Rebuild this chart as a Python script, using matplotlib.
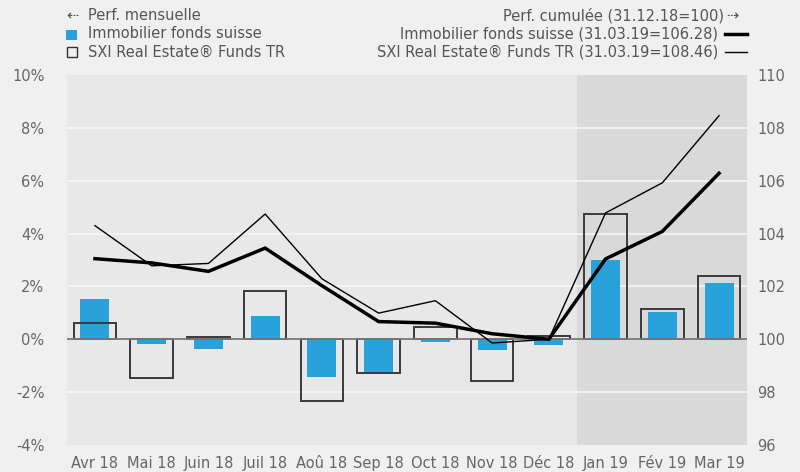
import matplotlib
matplotlib.use("Agg")
import matplotlib.pyplot as plt
from matplotlib import font_manager as fm
from matplotlib.patches import Rectangle
from matplotlib.lines import Line2D

months = ["Avr 18", "Mai 18", "Juin 18", "Juil 18", "Aoû 18", "Sep 18",
          "Oct 18", "Nov 18", "Déc 18", "Jan 19", "Fév 19", "Mar 19"]
monthly_fonds = [1.53, -0.16, -0.35, 0.89, -1.41, -1.33, -0.12, -0.40, -0.23, 3.01, 1.05, 2.14]
monthly_sxi = [0.61, -1.48, 0.09, 1.81, -2.33, -1.28, 0.45, -1.58, 0.13, 4.74, 1.13, 2.40]
cum_fonds = [103.05, 102.89, 102.57, 103.45, 102.03, 100.67, 100.61, 100.21, 100.0, 103.04, 104.08, 106.28]
cum_sxi = [104.30, 102.78, 102.87, 104.74, 102.29, 100.99, 101.46, 99.86, 100.0, 104.78, 105.92, 108.46]
left_ticks = [-4, -2, 0, 2, 4, 6, 8, 10]
right_ticks = [96, 98, 100, 102, 104, 106, 108, 110]

names = {f.name for f in fm.fontManager.ttflist}
fam = ["Liberation Sans Narrow", "DejaVu Sans"] if "Liberation Sans Narrow" in names else ["DejaVu Sans"]
plt.rcParams["font.family"] = fam

W, H = 800, 472
fig = plt.figure(figsize=(8, 4.72), dpi=100, facecolor="#f0f0f0")
ax = fig.add_axes([66.6 / W, 1 - 445 / H, (747.4 - 66.6) / W, (445 - 75) / H])
ax.set_facecolor("#e8e8e8")
x = list(range(len(months)))
ax.set_xlim(-0.5, len(months) - 0.5)
ax.set_ylim(-4, 10)
ax.axvspan(8.5, 11.5, color="#d9d9d9", zorder=0, lw=0)
for t in left_ticks:
    if t not in (-4, 0, 10):
        ax.axhline(t, color="#f7f7f7", lw=1.2, zorder=1)
ax.bar(x, monthly_fonds, width=0.51, color="#29a2dc", zorder=2)
ax.bar(x, monthly_sxi, width=0.75, facecolor="none", edgecolor="#3a3a3a", lw=1.4, zorder=3)
ax.axhline(0, color="#7a7a7a", lw=1.3, zorder=4)

tc = "#666666"
ax.set_yticks(left_ticks)
ax.set_yticklabels([f"{t}%" for t in left_ticks])
ax.set_xticks(x)
ax.set_xticklabels(months)
ax.tick_params(axis="both", length=0, labelsize=10.5, colors=tc)
ax.tick_params(axis="y", pad=16)
ax.tick_params(axis="x", pad=8)
for s in ax.spines.values():
    s.set_visible(False)

ax2 = ax.twinx()
ax2.set_ylim(96, 110)
ax2.plot(x, cum_fonds, color="black", lw=2.5, zorder=5, solid_joinstyle="miter")
ax2.plot(x, cum_sxi, color="black", lw=1.0, zorder=5)
ax2.set_yticks(right_ticks)
ax2.tick_params(axis="y", length=0, labelsize=10.5, colors=tc, pad=7)
for s in ax2.spines.values():
    s.set_visible(False)

lc = "#555555"
fs = 10.5
def fy(py):
    return 1 - py / H
fig.text(66 / W, fy(16), "⇠", fontsize=fs, color=lc, va="center", ha="left", family=["DejaVu Sans"])
fig.text(88 / W, fy(16), "Perf. mensuelle", fontsize=fs, color=lc, va="center", ha="left")
fig.text(88 / W, fy(34), "Immobilier fonds suisse", fontsize=fs, color=lc, va="center", ha="left")
fig.text(88 / W, fy(52), "SXI Real Estate® Funds TR", fontsize=fs, color=lc, va="center", ha="left")
fig.add_artist(Rectangle((66 / W, fy(39.5)), 11 / W, 10 / H, transform=fig.transFigure,
                         facecolor="#29a2dc", edgecolor="none"))
fig.add_artist(Rectangle((66.5 / W, fy(57)), 10 / W, 10 / H, transform=fig.transFigure,
                         facecolor="none", edgecolor="#333333", lw=1.0))

fig.text(724 / W, fy(16), "Perf. cumulée (31.12.18=100)", fontsize=fs, color=lc, va="center", ha="right")
fig.text(726 / W, fy(16), "⇢", fontsize=fs, color=lc, va="center", ha="left", family=["DejaVu Sans"])
fig.text(718 / W, fy(34), "Immobilier fonds suisse (31.03.19=106.28)", fontsize=fs, color=lc, va="center", ha="right")
fig.text(718 / W, fy(52), "SXI Real Estate® Funds TR (31.03.19=108.46)", fontsize=fs, color=lc, va="center", ha="right")
fig.add_artist(Line2D([725 / W, 747 / W], [fy(34), fy(34)], transform=fig.transFigure, color="black", lw=2.5))
fig.add_artist(Line2D([725 / W, 747 / W], [fy(52), fy(52)], transform=fig.transFigure, color="black", lw=1.0))

fig.savefig("out.png", dpi=100, facecolor=fig.get_facecolor())
